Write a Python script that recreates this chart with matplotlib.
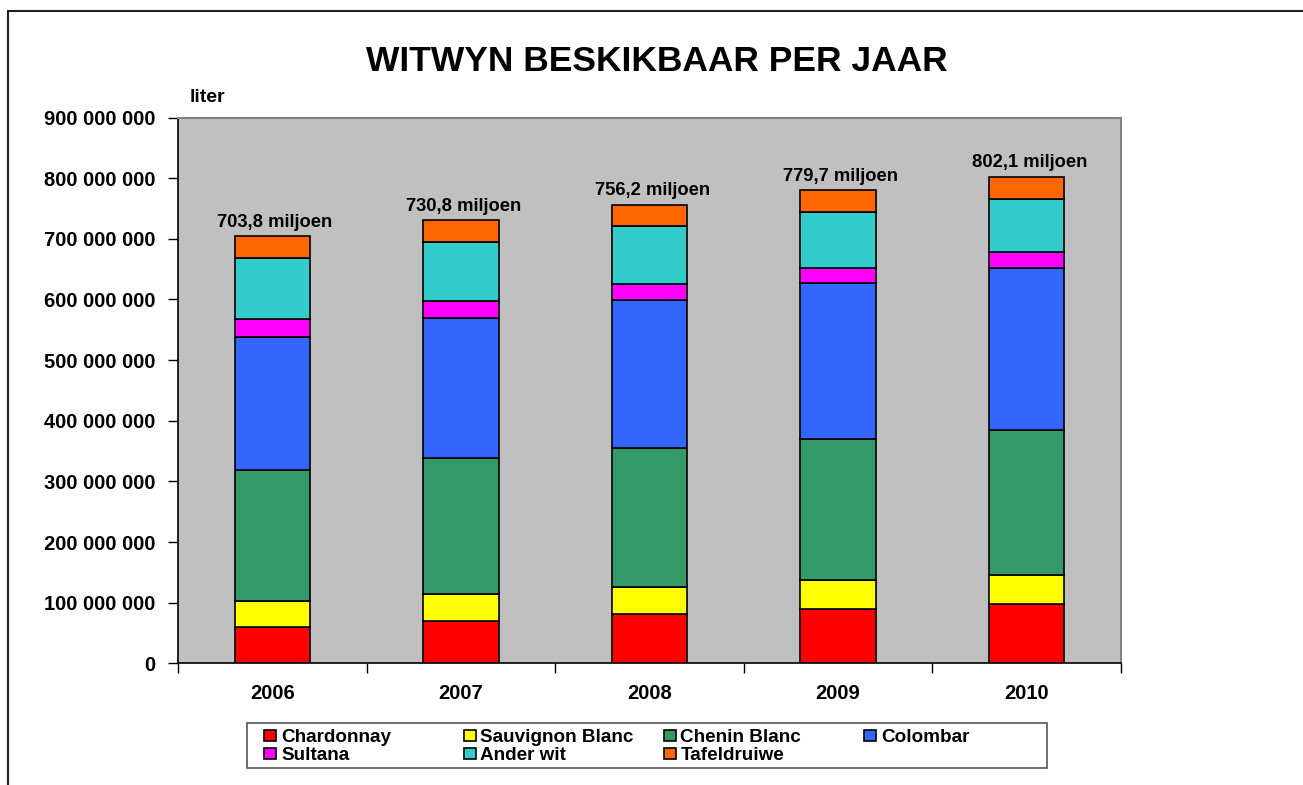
import matplotlib
matplotlib.use("Agg")
import matplotlib.pyplot as plt
from matplotlib.patches import Rectangle
from matplotlib.ticker import FixedLocator, FuncFormatter
import numpy as np

plt.rcParams['font.family'] = ['Liberation Sans', 'DejaVu Sans']
plt.rcParams['font.weight'] = 'bold'

years = ['2006', '2007', '2008', '2009', '2010']
series_names = ['Chardonnay', 'Sauvignon Blanc', 'Chenin Blanc', 'Colombar',
                'Sultana', 'Ander wit', 'Tafeldruiwe']
colors = ['#FF0000', '#FFFF00', '#339966', '#3366FF', '#FF00FF', '#33CCCC', '#FF6600']

# values in million liter
chardonnay = [60.5, 70.3, 81.3, 90.1, 97.8]
sauvignon_blanc = [41.5, 44.0, 45.1, 46.7, 47.8]
chenin_blanc = [216.5, 223.6, 228.5, 233.0, 239.0]
colombar = [220.0, 230.8, 244.0, 256.6, 267.6]
sultana = [29.0, 28.6, 26.4, 25.8, 25.3]
ander_wit = [100.0, 97.8, 95.0, 91.8, 88.4]
tafeldruiwe = [36.3, 35.7, 35.9, 35.7, 36.2]

series = [chardonnay, sauvignon_blanc, chenin_blanc, colombar,
          sultana, ander_wit, tafeldruiwe]

W, H = 1303, 785
fig = plt.figure(figsize=(W / 100, H / 100), dpi=100)


def fx(px):
    return px / W


def fy(py):
    return 1 - py / H


# outer chart border (runs off the right and bottom edges)
fig.patches.append(Rectangle((fx(8), fy(800)), fx(1320) - fx(8), fy(11) - fy(800),
                             transform=fig.transFigure, fill=False,
                             edgecolor='#222222', linewidth=1.5))

ax = fig.add_axes([fx(178), fy(663.3), fx(1120.7) - fx(178), fy(117.5) - fy(663.3)])
ax.set_facecolor('#C0C0C0')

x = np.arange(len(years))
bottom = np.zeros(len(years))
for name, vals, col in zip(series_names, series, colors):
    v = np.array(vals) * 1e6
    ax.bar(x, v, 0.4, bottom=bottom, color=col, edgecolor='black',
           linewidth=1.2, label=name, zorder=3)
    bottom += v

for xi, tot in zip(x, bottom):
    label = f"{tot / 1e6:.1f}".replace('.', ',') + ' miljoen'
    ax.annotate(label, (xi, tot), xytext=(2, 4), textcoords='offset points',
                ha='center', va='bottom', fontsize=13.2, fontweight='bold')

ax.set_xlim(-0.5, len(years) - 0.5)
ax.set_ylim(0, 900e6)
ax.yaxis.set_major_locator(FixedLocator(np.arange(0, 900e6 + 1, 100e6)))
ax.yaxis.set_major_formatter(FuncFormatter(lambda v, p: f"{int(v):,}".replace(',', ' ')))
ax.tick_params(axis='y', direction='out', length=7, width=1, pad=9,
               labelsize=14.5, color='black')

ax.set_xticks(x)
ax.set_xticklabels(years, fontsize=14.5, fontweight='bold')
ax.tick_params(axis='x', which='major', length=0, pad=15)
ax.set_xticks(np.arange(-0.5, len(years)), minor=True)
ax.tick_params(axis='x', which='minor', direction='out', length=7, width=1, color='black')
for lab in ax.get_yticklabels():
    lab.set_fontweight('bold')

for side in ['top', 'right']:
    ax.spines[side].set_color('#808080')
    ax.spines[side].set_linewidth(1.5)
for side in ['left', 'bottom']:
    ax.spines[side].set_color('black')
    ax.spines[side].set_linewidth(1.2)

fig.text(fx(656.5), fy(58), 'WITWYN BESKIKBAAR PER JAAR', ha='center', va='center_baseline',
         fontsize=25.5, fontweight='bold')
fig.text(fx(190), fy(97), 'liter', ha='left', va='center', fontsize=14, fontweight='bold')

# legend drawn like the spreadsheet one: equal column widths
fig.patches.append(Rectangle((fx(247), fy(768)), fx(1047) - fx(247), fy(723) - fy(768),
                             transform=fig.transFigure, facecolor='white',
                             edgecolor='#555555', linewidth=1.2))
col_x = [264, 463.5, 663.5, 864]
row_y = [735.5, 753.7]
for i, (name, col) in enumerate(zip(series_names, colors)):
    cx = col_x[i % 4]
    cy = row_y[i // 4]
    fig.patches.append(Rectangle((fx(cx), fy(cy + 5.5)), fx(12), 11 / H,
                                 transform=fig.transFigure, facecolor=col,
                                 edgecolor='black', linewidth=1.2))
    fig.text(fx(cx + 17), fy(cy), name, ha='left', va='center_baseline',
             fontsize=13.6, fontweight='bold')

fig.savefig('out.png', dpi=100)
